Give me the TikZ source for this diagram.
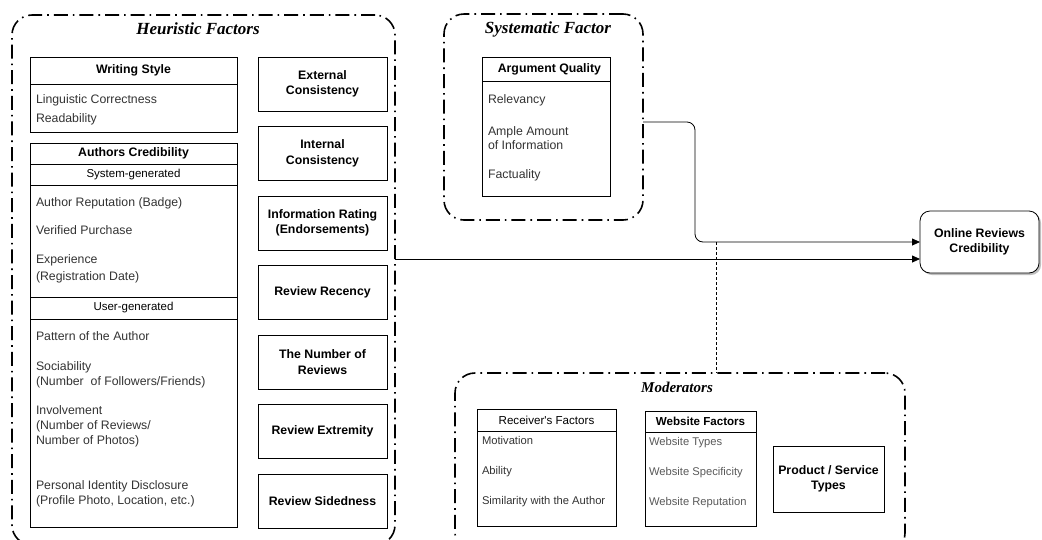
\documentclass[tikz,border=0pt]{standalone}
\usepackage{fontspec}
\setmainfont{Liberation Serif}
\newfontfamily\arialf{Liberation Sans}
\usetikzlibrary{shapes}
\usetikzlibrary{arrows.meta}
\usetikzlibrary{positioning}
\usetikzlibrary{shadows}
\definecolor{itemgray}{gray}{0.2}

\begin{document}
\begin{tikzpicture}[x=1pt,y=-1pt,every node/.style={inner sep=0pt,outer sep=0pt},
					group/.style={draw,line width=1.6pt,rounded corners=20pt,dash pattern=on 14pt off 5pt on 1.6pt off 5pt},
					grouptitle/.style={font=\fontsize{17}{20}\selectfont\bfseries\itshape},
					hdr/.style={draw,line width=0.8pt,font=\arialf\fontsize{12.3}{15}\selectfont\bfseries},
					subhdr/.style={draw,line width=0.8pt,font=\arialf\fontsize{11.5}{14}\selectfont},
					body/.style={draw,line width=0.8pt},
					items/.style={align=left,text=itemgray,font=\arialf\fontsize{12.3}{15}\selectfont},
					moditems/.style={items,font=\arialf\fontsize{11.2}{15}\selectfont},
					factor/.style={draw,line width=0.8pt,minimum width=129pt,minimum height=54pt,align=center,font=\arialf\fontsize{12.3}{15.5}\selectfont\bfseries},
					conn/.style={line width=0.8pt,-{Triangle[length=8pt,width=7pt]}}
					]
	\useasboundingbox (0,0) rectangle (1042,539);
	\clip (0,0) rectangle (1042,539);

	% heuristic factors
	\node[group,minimum width=383pt,minimum height=530pt,anchor=north west] (heur) at (12,15) {};
	\node[grouptitle] (heurtitle) at (198,29) {Heuristic Factors};

	\node[hdr,minimum width=207pt,minimum height=27pt,anchor=north west] (wshead) at (30,57) {Writing Style};
	\node[body,minimum width=207pt,minimum height=48pt,below=0pt of wshead] (wsbody) {};
	\node[items,anchor=north west] (wsitems) at ([shift={(6pt,-10.5pt)}]wsbody.north west) {Linguistic Correctness\\[4pt]Readability};

	\node[hdr,minimum width=207pt,minimum height=21pt,anchor=north west] (achead) at (30,143) {Authors Credibility};
	\node[subhdr,minimum width=207pt,minimum height=21pt,below=0pt of achead] (syshead) {System-generated};
	\node[body,minimum width=207pt,minimum height=112pt,below=0pt of syshead] (sysbody) {};
	\node[subhdr,minimum width=207pt,minimum height=22pt,below=0pt of sysbody] (usrhead) {User-generated};
	\node[body,minimum width=207pt,minimum height=208pt,below=0pt of usrhead] (usrbody) {};
	\node[items,anchor=north west] (sysitems) at ([shift={(6pt,-12.5pt)}]sysbody.north west)
		{Author Reputation (Badge)\\[13.5pt]Verified Purchase\\[13.5pt]Experience\\[2pt](Registration Date)};
	\node[items,anchor=north west] (usritems) at ([shift={(6pt,-12.5pt)}]usrbody.north west)
		{Pattern of the Author\\[15pt]Sociability\\(Number~ of Followers/Friends)\\[14pt]Involvement\\(Number of Reviews/\\Number of Photos)\\[30pt]Personal Identity Disclosure\\(Profile Photo, Location, etc.)};

	\node[factor,anchor=north west] (extcons) at (258,57) {External\\Consistency};
	\node[factor,below=15.5pt of extcons] (intcons) {Internal\\Consistency};
	\node[factor,below=15.5pt of intcons] (inforate) {Information Rating\\(Endorsements)};
	\node[factor,below=15.5pt of inforate] (recency) {Review Recency};
	\node[factor,below=15.5pt of recency] (numrev) {The Number of\\Reviews};
	\node[factor,below=15.5pt of numrev] (extrem) {Review Extremity};
	\node[factor,below=15.5pt of extrem] (sided) {Review Sidedness};

	% systematic factor
	\node[group,minimum width=199pt,minimum height=206pt,anchor=north west] (sysgrp) at (444,14) {};
	\node[grouptitle] (systitle) at (548,29) {Systematic Factor};
	\node[hdr,minimum width=128pt,minimum height=24pt,anchor=north west] (aqhead) at (482,57) {~~Argument Quality};
	\node[body,minimum width=128pt,minimum height=115pt,below=0pt of aqhead] (aqbody) {};
	\node[items,anchor=north west] (aqitems) at ([shift={(6pt,-13.5pt)}]aqbody.north west)
		{Relevancy\\[17pt]Ample Amount\\[-1pt]of Information\\[14pt]Factuality};

	% outcome
	\node[draw,line width=0.8pt,rounded corners=10pt,fill=white,minimum width=119pt,minimum height=62pt,anchor=north west,align=center,
		font=\arialf\fontsize{12.3}{15}\selectfont\bfseries,drop shadow={shadow xshift=2pt,shadow yshift=-2pt,fill=black!50}] (orc) at (920,211) {Online Reviews\\Credibility};

	% moderators
	\node[group,minimum width=450pt,minimum height=180pt,anchor=north west] (modgrp) at (455,373) {};
	\node[grouptitle,font=\fontsize{15}{18}\selectfont\bfseries\itshape] (modtitle) at (677,387) {Moderators};
	\node[hdr,font=\arialf\fontsize{11.6}{15}\selectfont,minimum width=139pt,minimum height=22pt,anchor=north west] (rcvhead) at (477,409) {Receiver's Factors};
	\node[body,minimum width=139pt,minimum height=95pt,below=0pt of rcvhead] (rcvbody) {};
	\node[moditems,anchor=north west] (rcvitems) at ([shift={(5pt,-5.5pt)}]rcvbody.north west)
		{Motivation\\[15pt]Ability\\[15pt]Similarity with the Author};
	\node[hdr,font=\arialf\fontsize{11.6}{15}\selectfont\bfseries,minimum width=111pt,minimum height=21pt,anchor=north west] (webhead) at (645,411) {Website Factors};
	\node[body,minimum width=111pt,minimum height=94pt,below=0pt of webhead] (webbody) {};
	\node[moditems,text=black!65,anchor=north west] (webitems) at ([shift={(4pt,-5.5pt)}]webbody.north west)
		{Website Types\\[15pt]Website Specificity\\[15pt]Website Reputation};
	\node[factor,minimum width=111pt,minimum height=66pt,anchor=north west] (prodtype) at (773,446) {Product / Service\\Types};

	% connectors
	\coordinate (bend) at (695,242);
	\coordinate (tap) at (716,242);
	\draw[conn,rounded corners=8pt] ([yshift=-5pt]sysgrp.east) -| (bend) -- (orc.west);
	\draw[conn] ([yshift=21pt]heur.east) -- ([yshift=-17pt]orc.west);
	\draw[line width=0.8pt,dash pattern=on 3pt off 2pt] (tap) -- (tap |- modgrp.north);
\end{tikzpicture}
\end{document}
